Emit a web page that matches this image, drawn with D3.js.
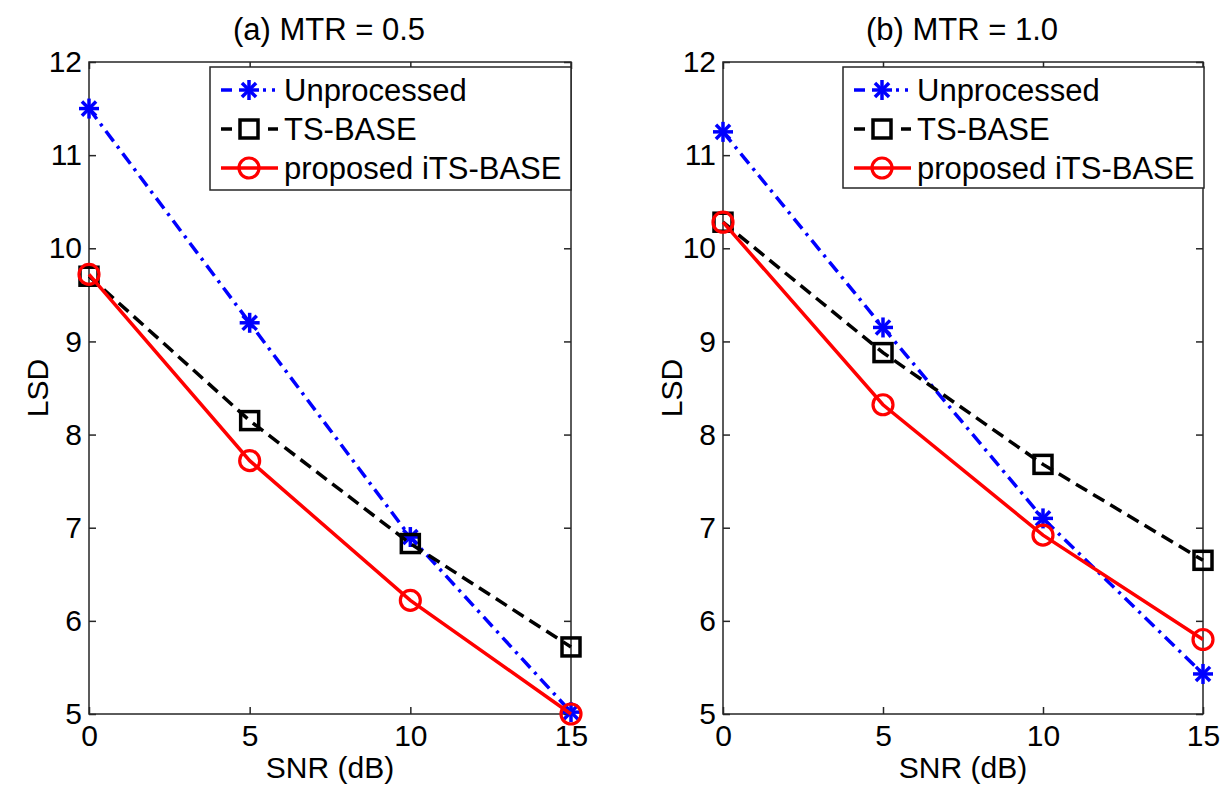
<!DOCTYPE html>
<html>
<head>
<meta charset="utf-8">
<script src="https://cdn.jsdelivr.net/npm/d3@7"></script>
<style>
  body { margin: 0; background: #fff; }
  svg { display: block; }
  text { font-family: "Liberation Sans", Arial, sans-serif; fill: #000; }
</style>
</head>
<body>
<svg id="chart" width="1231" height="787"></svg>
<script>
// SNR values on the x axis
var snr = [0, 5, 10, 15];
var xTicks = [0, 5, 10, 15];
var yTicks = [5, 6, 7, 8, 9, 10, 11, 12];

// panel (a) MTR = 0.5
var unprocA = [11.5, 9.2, 6.9, 5.02];
var tsbaseA = [9.7, 8.15, 6.83, 5.72];
var itsA = [9.72, 7.72, 6.22, 5.0];

// panel (b) MTR = 1.0
var unprocB = [11.25, 9.15, 7.1, 5.43];
var tsbaseB = [10.28, 8.88, 7.68, 6.65];
var itsB = [10.28, 8.32, 6.92, 5.8];

var titles = ["(a) MTR = 0.5", "(b) MTR = 1.0"];
var seriesNames = ["Unprocessed", "TS-BASE", "proposed iTS-BASE"];

var svg = d3.select("#chart");

var panels = [
  { left: 89, right: 571, top: 62, bottom: 714, title: titles[0], data: [unprocA, tsbaseA, itsA],
    legend: { x: 210, y: 67, w: 361, h: 123 } },
  { left: 723, right: 1203, top: 62, bottom: 714, title: titles[1], data: [unprocB, tsbaseB, itsB],
    legend: { x: 843, y: 67, w: 361, h: 121 } }
];

var styles = [
  { color: "#0000ff", dash: "13,6,3,6", marker: "star" },
  { color: "#000000", dash: "13,7", marker: "square" },
  { color: "#ff0000", dash: null, marker: "circle" }
];

function drawMarker(g, type, color, cx, cy) {
  if (type == "star") {
    var r = 10;
    for (var k = 0; k < 4; k++) {
      var a = k * Math.PI / 4;
      g.append("line")
        .attr("x1", cx - r * Math.cos(a)).attr("y1", cy - r * Math.sin(a))
        .attr("x2", cx + r * Math.cos(a)).attr("y2", cy + r * Math.sin(a))
        .attr("stroke", color).attr("stroke-width", 3.5);
    }
  } else if (type == "square") {
    g.append("rect")
      .attr("x", cx - 9).attr("y", cy - 9)
      .attr("width", 18).attr("height", 18)
      .attr("fill", "none").attr("stroke", color).attr("stroke-width", 3.5);
  } else {
    g.append("circle")
      .attr("cx", cx).attr("cy", cy).attr("r", 10)
      .attr("fill", "none").attr("stroke", color).attr("stroke-width", 3.2);
  }
}

panels.forEach(function (p) {
  var x = d3.scaleLinear().domain([0, 15]).range([p.left, p.right]);
  var y = d3.scaleLinear().domain([5, 12]).range([p.bottom, p.top]);
  var g = svg.append("g");

  // box
  g.append("rect")
    .attr("x", p.left).attr("y", p.top)
    .attr("width", p.right - p.left).attr("height", p.bottom - p.top)
    .attr("fill", "none").attr("stroke", "#262626").attr("stroke-width", 1.5);

  // axes with inward ticks
  var bottomAxis = d3.axisBottom(x).tickValues(xTicks).tickSize(-7).tickPadding(11).tickFormat(d3.format("d"));
  var topAxis = d3.axisTop(x).tickValues(xTicks).tickSize(-7).tickFormat("");
  var leftAxis = d3.axisLeft(y).tickValues(yTicks).tickSize(-7).tickPadding(7).tickFormat(d3.format("d"));
  var rightAxis = d3.axisRight(y).tickValues(yTicks).tickSize(-7).tickFormat("");

  [[bottomAxis, "translate(0," + p.bottom + ")"],
   [topAxis, "translate(0," + p.top + ")"],
   [leftAxis, "translate(" + p.left + ",0)"],
   [rightAxis, "translate(" + p.right + ",0)"]].forEach(function (a) {
    var ag = g.append("g").attr("transform", a[1]).call(a[0]);
    ag.select(".domain").remove();
    ag.selectAll("line").attr("stroke", "#262626").attr("stroke-width", 1.5);
    ag.selectAll("text").style("font-size", "30px").attr("fill", "#000")
      .style("font-family", "'Liberation Sans', Arial, sans-serif");
  });

  // title and axis labels
  g.append("text").attr("x", (p.left + p.right) / 2 - 1).attr("y", 40)
    .attr("text-anchor", "middle").style("font-size", "31px").text(p.title);
  g.append("text").attr("x", (p.left + p.right) / 2).attr("y", 778)
    .attr("text-anchor", "middle").style("font-size", "30px").text("SNR (dB)");
  g.append("text")
    .attr("transform", "translate(" + (p.left - 41) + "," + ((p.top + p.bottom) / 2) + ") rotate(-90)")
    .attr("text-anchor", "middle").style("font-size", "30px").text("LSD");

  // lines
  var line = d3.line()
    .x(function (d, i) { return x(snr[i]); })
    .y(function (d) { return y(d); });

  p.data.forEach(function (series, s) {
    var st = styles[s];
    g.append("path").datum(series)
      .attr("d", line)
      .attr("fill", "none")
      .attr("stroke", st.color)
      .attr("stroke-width", 3.5)
      .attr("stroke-dasharray", st.dash);
    series.forEach(function (v, i) {
      drawMarker(g, st.marker, st.color, x(snr[i]), y(v));
    });
  });

  // legend
  var L = p.legend;
  var lg = g.append("g");
  lg.append("rect").attr("x", L.x).attr("y", L.y).attr("width", L.w).attr("height", L.h)
    .attr("fill", "#fff").attr("stroke", "#262626").attr("stroke-width", 1.5);
  seriesNames.forEach(function (name, s) {
    var st = styles[s];
    var cy = L.y + 23 + s * 39;
    lg.append("line")
      .attr("x1", L.x + 11).attr("x2", L.x + 68)
      .attr("y1", cy).attr("y2", cy)
      .attr("stroke", st.color).attr("stroke-width", 3.5)
      .attr("stroke-dasharray", st.dash ? (s == 0 ? "11,31,3,6,3,10" : "11,36,10") : null);
    drawMarker(lg, st.marker, st.color, L.x + 39, cy);
    lg.append("text").attr("x", L.x + 74).attr("y", cy + 11)
      .style("font-size", "31px").text(name);
  });
});
</script>
</body>
</html>
